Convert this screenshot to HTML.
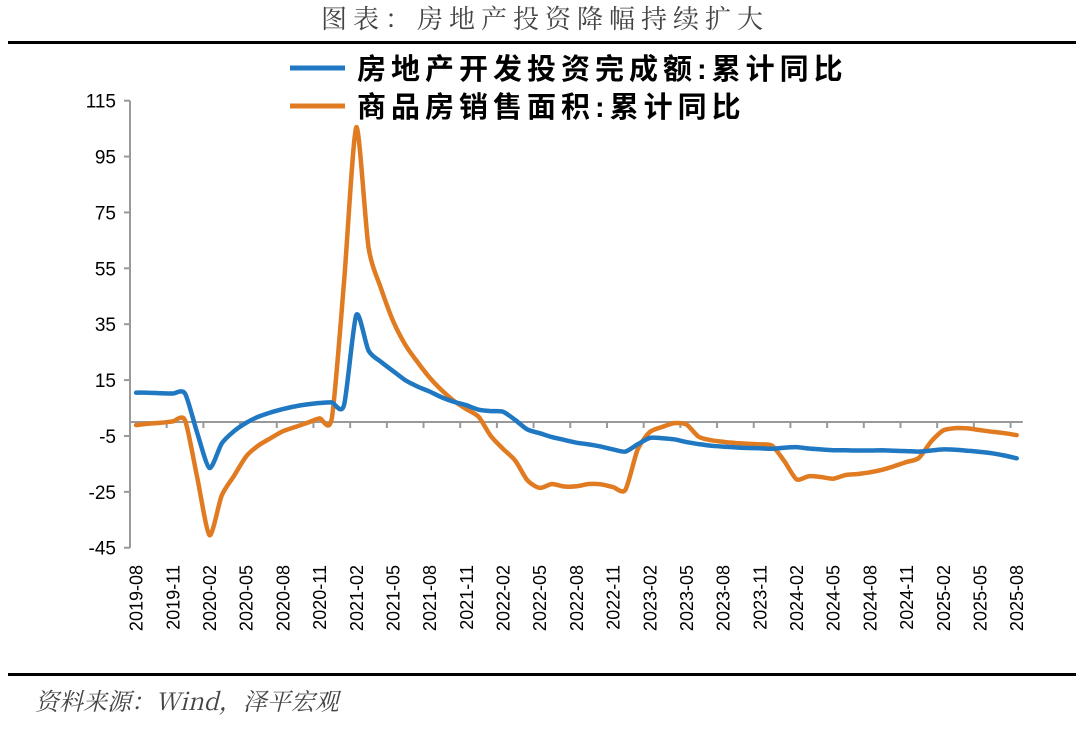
<!DOCTYPE html>
<html><head><meta charset="utf-8"><style>
body{margin:0;background:#fff;width:1080px;height:728px;overflow:hidden;font-family:"Liberation Sans","Noto Sans CJK SC",sans-serif}
</style></head><body>
<svg width="1080" height="728" xmlns="http://www.w3.org/2000/svg">
<text x="545" y="28" text-anchor="middle" font-size="26" fill="#444" letter-spacing="6" font-family="Noto Serif CJK SC, serif">图表：房地产投资降幅持续扩大</text>
<rect x="8" y="41" width="1068" height="3" fill="#000"/>
<rect x="8" y="673" width="1068" height="3" fill="#000"/>
<text x="35" y="710" font-size="24" font-style="italic" fill="#444" font-family="Noto Serif CJK SC, serif">资料来源：Wind，泽平宏观</text>
<g>
<line x1="290" y1="68" x2="345" y2="68" stroke="#1f78c1" stroke-width="5"/>
<text x="357" y="79" font-size="29" font-weight="bold" fill="#000" letter-spacing="5">房地产开发投资完成额:累计同比</text>
<line x1="290" y1="106" x2="345" y2="106" stroke="#e07b22" stroke-width="5"/>
<text x="357" y="117" font-size="29" font-weight="bold" fill="#000" letter-spacing="5">商品房销售面积:累计同比</text>
</g>
<g id="axes"></g>
<g id="series"></g>
</svg>
<script>
const months=[];for(let y=2019,m=8;months.length<73;){months.push(y+'-'+String(m).padStart(2,'0'));m++;if(m>12){m=1;y++;}}
const yTicks=[115,95,75,55,35,15,-5,-25,-45];
const investment=[10.5,10.5,10.3,10.2,10.2,-4,-16.5,-7.7,-3.3,-0.3,1.9,3.4,4.6,5.6,6.3,6.8,7.0,6.0,38.3,25.6,21.6,18.3,15.0,12.7,10.9,8.8,7.2,6.0,4.4,3.9,3.7,0.7,-2.7,-4.0,-5.4,-6.4,-7.4,-8.0,-8.8,-9.8,-10.6,-8,-5.7,-5.8,-6.2,-7.2,-7.9,-8.5,-8.8,-9.1,-9.3,-9.4,-9.6,-9.2,-9.0,-9.5,-9.8,-10.1,-10.1,-10.2,-10.2,-10.1,-10.3,-10.4,-10.6,-10.2,-9.8,-9.9,-10.3,-10.7,-11.2,-12,-13.0];
const sales=[-1.1,-0.6,-0.3,0.2,0.6,-20,-40.5,-26.3,-19.3,-12.3,-8.4,-5.8,-3.3,-1.8,-0.3,1.3,1.3,50,105.5,62.6,48.1,36.3,27.7,21.5,15.9,11.3,7.5,4.6,1.9,-5,-9.6,-13.8,-20.9,-23.6,-22.2,-23.1,-23.0,-22.2,-22.3,-23.3,-24.3,-10,-3.6,-1.8,-0.4,-0.9,-5.3,-6.5,-7.1,-7.5,-7.8,-8.0,-8.5,-14,-20.5,-19.4,-19.7,-20.3,-19.0,-18.6,-18.0,-17.1,-15.8,-14.3,-12.9,-7,-3.0,-2.2,-2.3,-2.9,-3.5,-4.0,-4.7];
const X0=130,STEP=12.23,Y0=422,K=2.794;
const xs=i=>X0+(i+0.5)*STEP, ys=v=>Y0-v*K;
const NS='http://www.w3.org/2000/svg';
const ax=document.getElementById('axes'),se=document.getElementById('series');
function mk(tag,at,par){const e=document.createElementNS(NS,tag);for(const k in at)e.setAttribute(k,at[k]);par.appendChild(e);return e;}
let e=mk('line',{x1:X0,y1:ys(yTicks[0]),x2:X0,y2:ys(yTicks[yTicks.length-1]),stroke:'#999','stroke-width':2},ax);


yTicks.forEach(v=>{
 const t=mk('line',{x1:X0-6,y1:ys(v),x2:X0,y2:ys(v),stroke:'#999','stroke-width':2},ax);
 
 
 const l=mk('text',{x:X0-14,y:ys(v)+7,'text-anchor':'end','font-size':19,fill:'#000'},ax);l.textContent=v;
 
 
});
e=mk('line',{x1:X0,y1:Y0,x2:X0+months.length*STEP,y2:Y0,stroke:'#999','stroke-width':2},ax);


months.forEach((m,i)=>{
 if(i%3!==0)return;
 const x=X0+i*STEP;
 if(i>0){const t=mk('line',{x1:x,y1:Y0,x2:x,y2:Y0+6,stroke:'#999','stroke-width':2},ax);
 
 }
 const cx=xs(i);
 const l=mk('text',{x:0,y:0,'text-anchor':'end','font-size':18,fill:'#000',transform:`translate(${cx+6.5},565) rotate(-90)`},ax);l.textContent=m;
 
 
});
function line(d,c,n){
 const P=d.map((v,i)=>[xs(i),ys(v)]);
 let s='M'+P[0][0].toFixed(1)+','+P[0][1].toFixed(1);
 const t=0.12;
 for(let i=0;i<P.length-1;i++){
  const p0=P[Math.max(0,i-1)],p1=P[i],p2=P[i+1],p3=P[Math.min(P.length-1,i+2)];
  const c1=[p1[0]+(p2[0]-p0[0])*t,p1[1]+(p2[1]-p0[1])*t];
  const c2=[p2[0]-(p3[0]-p1[0])*t,p2[1]-(p3[1]-p1[1])*t];
  s+=` C${c1[0].toFixed(1)},${c1[1].toFixed(1)} ${c2[0].toFixed(1)},${c2[1].toFixed(1)} ${p2[0].toFixed(1)},${p2[1].toFixed(1)}`;
 }
 const p=mk('path',{d:s,fill:'none',stroke:c,'stroke-width':4.5,'stroke-linejoin':'round','stroke-linecap':'round'},se);
 
 }
line(sales,'#e07b22','sales-area-line');
line(investment,'#1f78c1','investment-line');
</script>
</body></html>
